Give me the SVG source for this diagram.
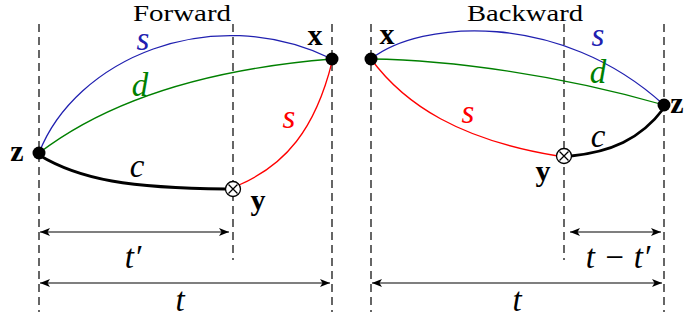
<svg xmlns="http://www.w3.org/2000/svg" width="689" height="322" viewBox="0 0 689 322">
<defs>
<marker id="ah" viewBox="0 0 10 8" refX="10" refY="4" markerWidth="10" markerHeight="8" markerUnits="userSpaceOnUse" orient="auto-start-reverse">
<path d="M0,0 L10,4 L0,8 L2.5,4 Z" fill="#000"/>
</marker>
</defs>
<style>
.dash{stroke:#000;stroke-width:1.2;stroke-dasharray:8,5;fill:none}
.dim{stroke:#000;stroke-width:1.2;fill:none;marker-start:url(#ah);marker-end:url(#ah)}
.e{fill:none;stroke-width:1.3}
.blue{stroke:#2020b0}
.green{stroke:#008000}
.red{stroke:#ff0000}
.blk{stroke:#000;stroke-width:2.8}
.m{font-family:"Liberation Serif",serif;font-style:italic;font-size:33px;text-anchor:middle}
.b{font-family:"Liberation Serif",serif;font-weight:bold;font-size:30px;text-anchor:middle}
.r{font-family:"Liberation Serif",serif;font-size:23px;text-anchor:middle}
.dot{fill:#000}
.cr{fill:#fff;stroke:#000;stroke-width:1.3}
</style>

<g id="guides">
<line class="dash" x1="39" y1="24" x2="39" y2="312"/>
<line class="dash" x1="233" y1="24" x2="233" y2="260"/>
<line class="dash" x1="332" y1="24" x2="332" y2="312"/>
<line class="dash" x1="371" y1="24" x2="371" y2="312"/>
<line class="dash" x1="564" y1="24" x2="564" y2="260"/>
<line class="dash" x1="664" y1="24" x2="664" y2="312"/>
</g>

<g id="titles">
<text class="r" x="182" y="21" textLength="98" lengthAdjust="spacingAndGlyphs">Forward</text>
<text class="r" x="525" y="21" textLength="116" lengthAdjust="spacingAndGlyphs">Backward</text>
</g>

<g id="connectors">
<path class="e blue" d="M39,153 C75,60 210,0 332,59"/>
<path class="e green" d="M39,153 C115,95 220,68 332,59"/>
<path class="e red" d="M239,185 C285,165 315,130 332,62"/>
<path class="e blk" d="M39,155 C80,180 130,188 226,189"/>
<path class="e blue" d="M371,59 C420,20 560,10 664,105"/>
<path class="e green" d="M371,59 C450,60 560,75 664,105"/>
<path class="e red" d="M371,59 C405,105 460,140 558,156"/>
<path class="e blk" d="M571,156 C610,152 640,140 664,108"/>
<line class="dim" x1="40" y1="232" x2="229" y2="232"/>
<line class="dim" x1="40" y1="283" x2="330" y2="283"/>
<line class="dim" x1="570" y1="232" x2="661" y2="232"/>
<line class="dim" x1="372" y1="283" x2="662" y2="283"/>
</g>

<g id="edge-labels">
<text class="m" x="143" y="50" fill="#2020b0">s</text>
<text class="m" x="140" y="96" fill="#008000">d</text>
<text class="m" x="137" y="177">c</text>
<text class="m" x="289" y="128" fill="#ff0000">s</text>
<text class="m" x="133" y="268">t′</text>
<text class="m" x="180" y="311">t</text>
<text class="m" x="598" y="46" fill="#2020b0">s</text>
<text class="m" x="598" y="83" fill="#008000">d</text>
<text class="m" x="468" y="123" fill="#ff0000">s</text>
<text class="m" x="598" y="147">c</text>
<text class="m" x="618" y="268">t − t′</text>
<text class="m" x="517" y="311">t</text>
</g>

<g id="node-z-fwd">
<circle class="dot" cx="39" cy="153" r="6.5"/>
<text class="b" x="17" y="161">z</text>
</g>
<g id="node-x-fwd">
<circle class="dot" cx="332" cy="59" r="6.5"/>
<text class="b" x="315" y="45">x</text>
</g>
<g id="node-y-fwd">
<circle class="cr" cx="233" cy="189" r="7.5"/>
<path d="M228.5,184.5 L237.5,193.5 M237.5,184.5 L228.5,193.5" stroke="#000" stroke-width="1.3"/>
<text class="b" x="258" y="210">y</text>
</g>
<g id="node-x-bwd">
<circle class="dot" cx="371" cy="59" r="6.5"/>
<text class="b" x="387" y="44">x</text>
</g>
<g id="node-z-bwd">
<circle class="dot" cx="664" cy="105" r="6.5"/>
<text class="b" x="677" y="113" text-anchor="start">z</text>
</g>
<g id="node-y-bwd">
<circle class="cr" cx="564" cy="156" r="7.5"/>
<path d="M559.5,151.5 L568.5,160.5 M568.5,151.5 L559.5,160.5" stroke="#000" stroke-width="1.3"/>
<text class="b" x="543" y="181">y</text>
</g>
</svg>
